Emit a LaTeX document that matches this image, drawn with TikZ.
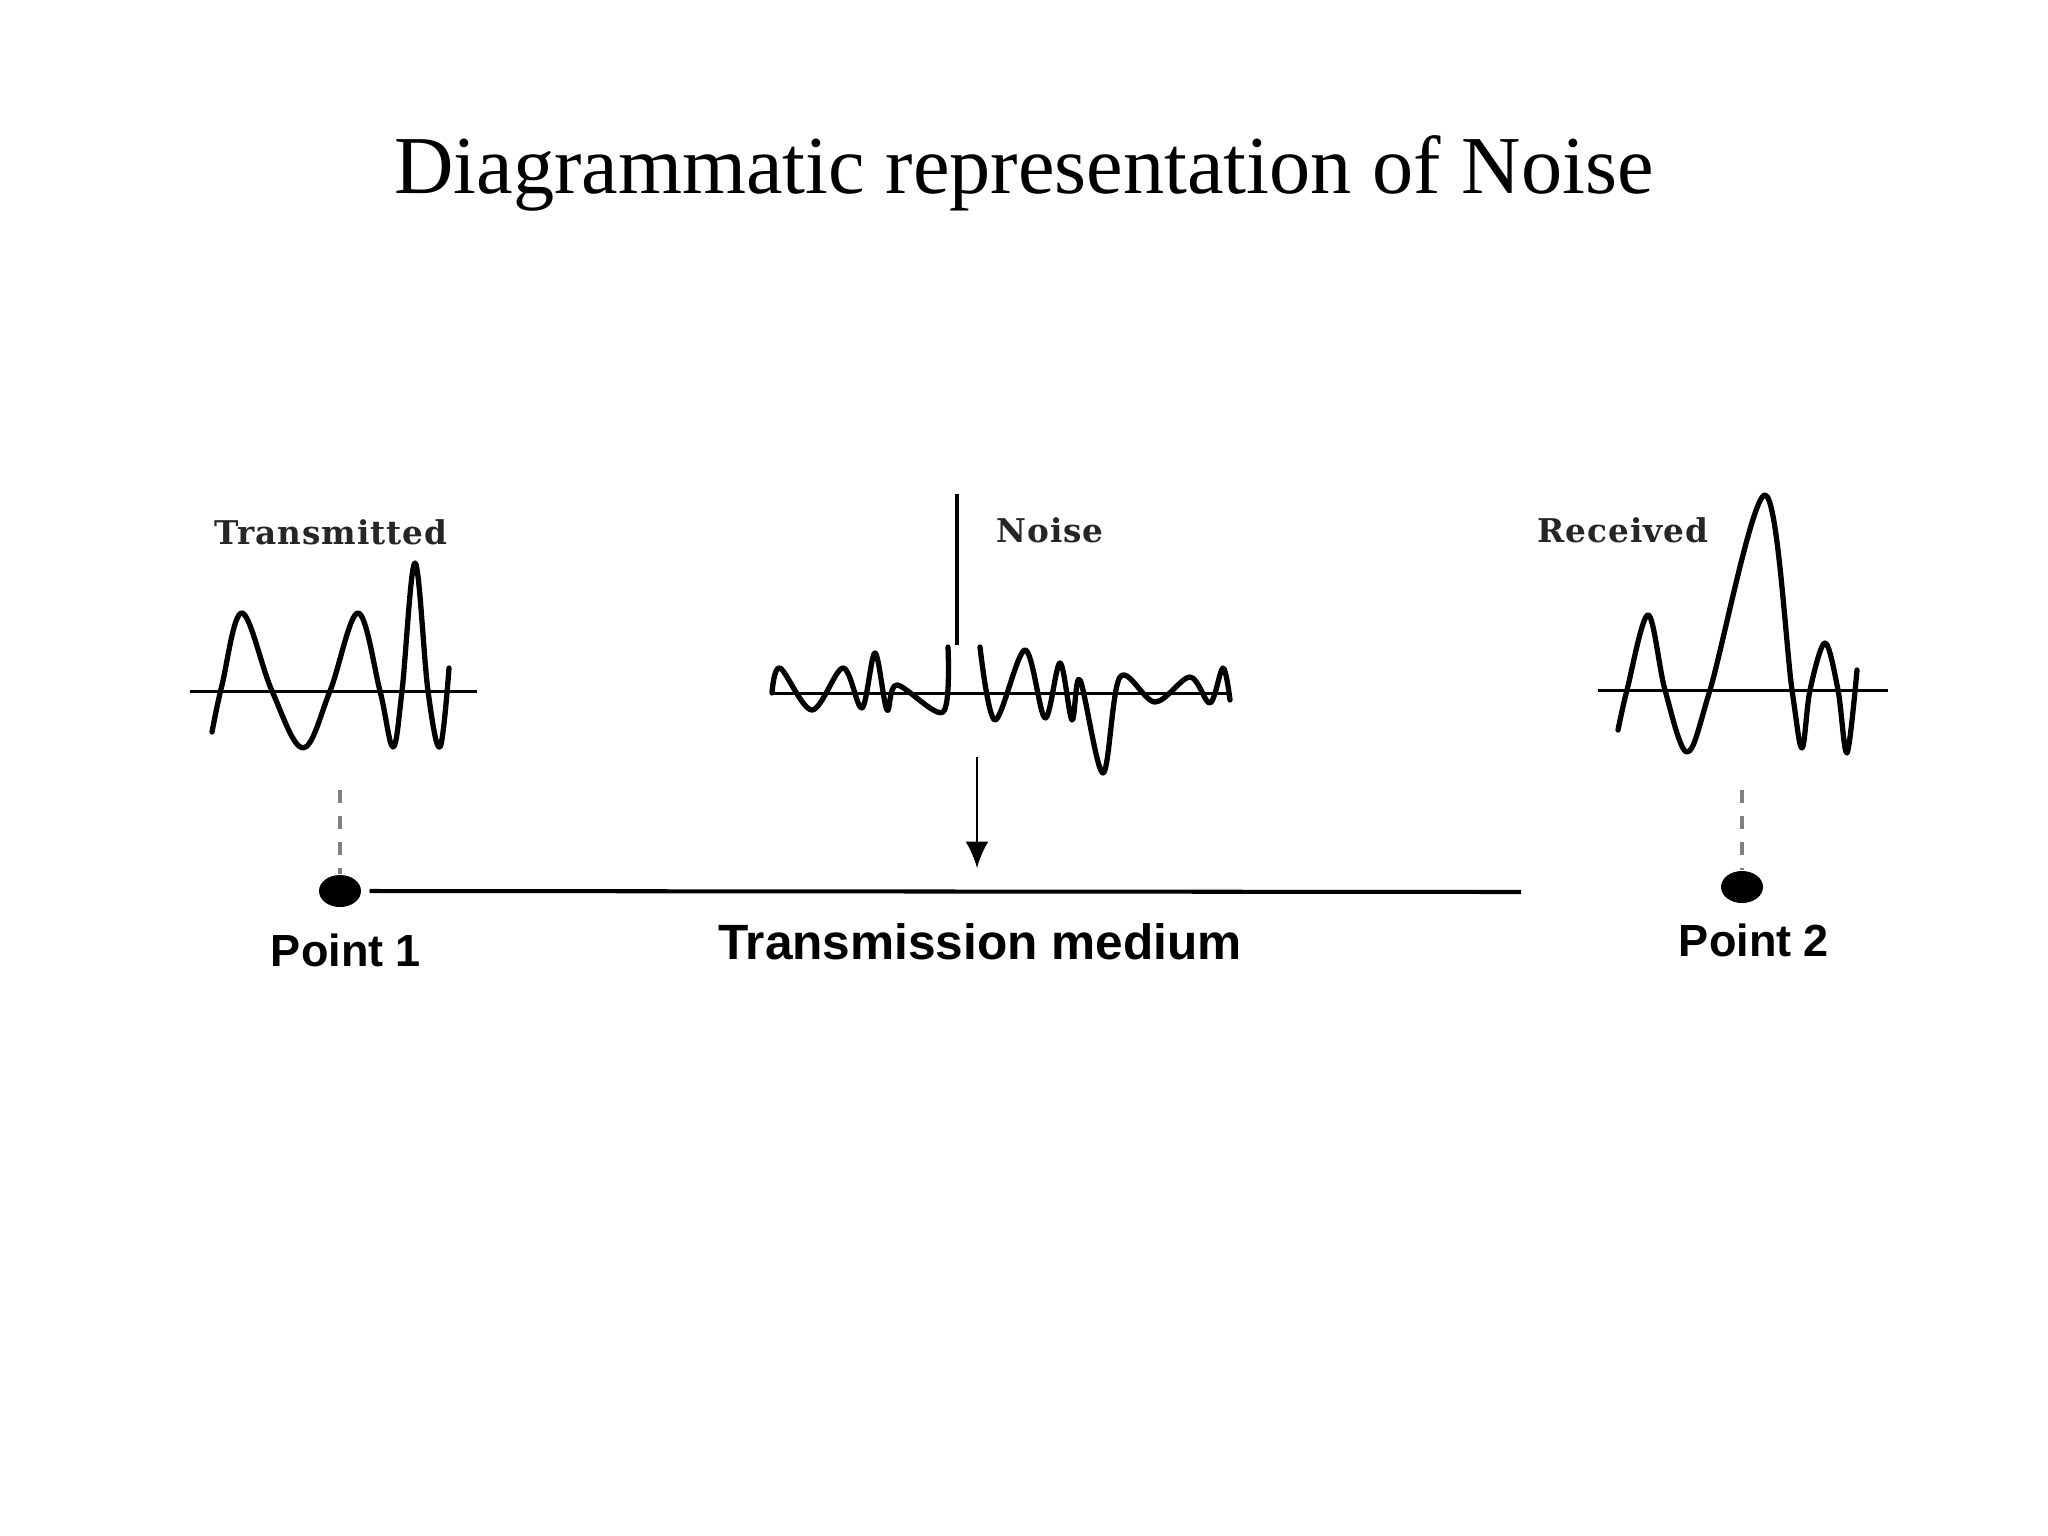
\documentclass[tikz,border=0pt]{standalone}
\usepackage{fontspec}
\setmainfont{Liberation Serif}
\newfontfamily\lblfont[LetterSpace=3]{DejaVu Serif}
\newfontfamily\ptfont{Liberation Sans}
\usetikzlibrary{arrows.meta,shapes.geometric}
\begin{document}
\begin{tikzpicture}[x=0.01cm,y=-0.01cm,
  wave/.style={line width=1.5pt,line join=round,line cap=round},
  axisline/.style={line width=0.85pt},
  guide/.style={draw=black!50,line width=1pt,dash pattern=on 3.7pt off 3.7pt},
  dot/.style={ellipse,fill=black,minimum width=0.42cm,minimum height=0.32cm,inner sep=0pt},
  lbl/.style={font=\lblfont\bfseries\fontsize{9.3}{11}\selectfont,inner sep=0pt,text=black!85},
  ptlbl/.style={font=\ptfont\bfseries\fontsize{12.8}{16}\selectfont,inner sep=0pt}]
\useasboundingbox[fill=white] (0,0) rectangle (2048,1536);

% title
\node[anchor=base,font=\fontsize{23.4}{28}\selectfont,inner sep=0pt] (title) at (1024,193) {Diagrammatic representation of Noise};

% labels
\node[lbl] (tx) at (331,532) {Transmitted};
\node[lbl] (nz) at (1050,530) {Noise};
\node[lbl] (rx) at (1623,530) {Received};

% transmitted wave
\draw[axisline] (190,691) -- (477,691);
\draw[wave] plot[smooth,tension=0.6] coordinates {(212,732) (222,685) (242,613) (272,691) (303,748) (330,691) (358,613) (380,691) (393,747) (402,691) (415,563) (428,691) (440,747) (449,668)};

% noise wave
\draw[axisline] (770,693) -- (1230,693);
\draw[wave] plot[smooth,tension=0.55] coordinates {(772,693) (780,668) (812,710) (843,668) (862,708) (875,653) (887,710) (897,685) (943,712) (948,647)};
\draw[wave] plot[smooth,tension=0.55] coordinates {(980,647) (995,720) (1025,650) (1045,718) (1060,663) (1072,720) (1080,680) (1103,773) (1120,677) (1155,702) (1190,677) (1210,703) (1223,668) (1230,700)};
\coordinate (nzT) at (957,494);
\coordinate (nzB) at (957,645);
\draw[line width=1.4pt] (nzT) -- (nzB);
\coordinate (arT) at (977,757);
\coordinate (arB) at (977,868);
\draw[line width=0.7pt,-{Latex[length=7.5pt,width=6.5pt]}] (arT) -- (arB);

% received wave
\draw[axisline] (1598,690) -- (1888,690);
\draw[wave] plot[smooth,tension=0.55] coordinates {(1618,730) (1627,690) (1648,615) (1665,690) (1687,752) (1710,690) (1765,495) (1792,690) (1802,748) (1810,690) (1825,643) (1838,690) (1847,753) (1857,670)};

% points and medium
\node[dot] (p1) at (340,891) {};
\node[dot] (p2) at (1742,887) {};
\coordinate (g1) at (340,790);
\coordinate (g2) at (1742,790);
\draw[guide] (g1) -- (p1.north);
\draw[guide] (g2) -- (p2.north);
\coordinate (mEnd) at (1521,892);
\draw[line width=1.15pt] ([xshift=0.08cm]p1.east) -- (mEnd);

\node[ptlbl] (p1l) at (346,950) {Point 1};
\node[ptlbl,font=\ptfont\bfseries\fontsize{14.1}{17}\selectfont] (ml) at (980,942) {Transmission medium};
\node[ptlbl] (p2l) at (1754,940) {Point 2};
\end{tikzpicture}
\end{document}
